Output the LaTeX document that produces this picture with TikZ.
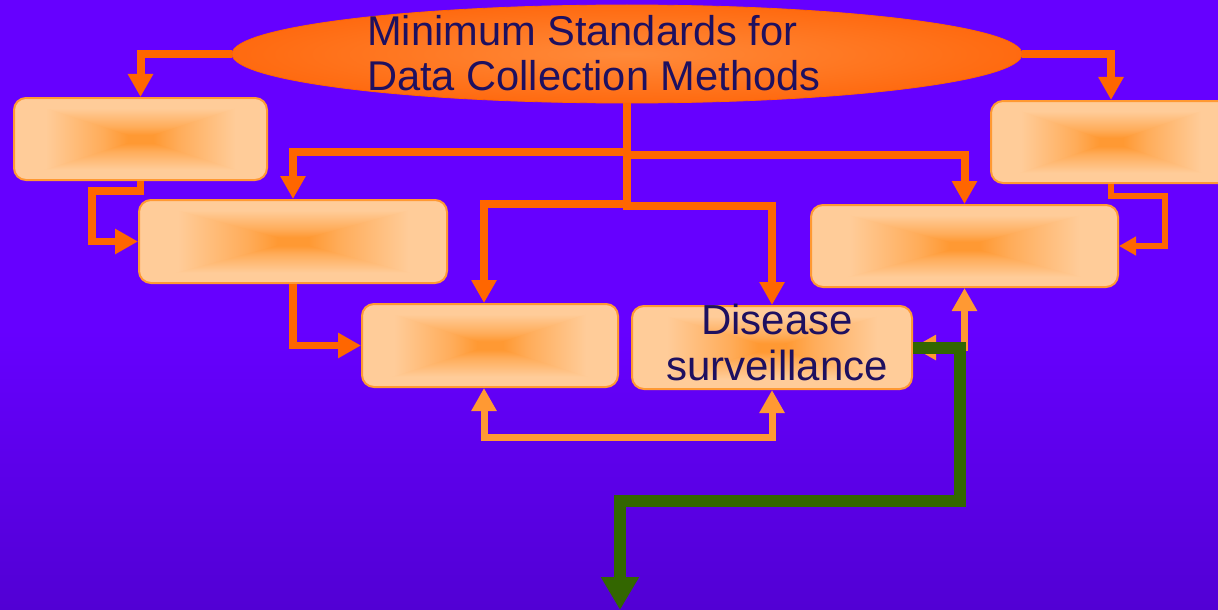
\documentclass[tikz,border=0pt]{standalone}
\usepackage{fontspec}
\newfontfamily\arialf{Liberation Sans}
\usetikzlibrary{arrows.meta,shapes.geometric,calc}

\definecolor{bgtop}{HTML}{6600FF}
\definecolor{bgbot}{HTML}{5200D4}
\definecolor{cdark}{HTML}{FF6600}
\definecolor{clight}{HTML}{FF9933}
\definecolor{peach}{HTML}{FFCC99}
\definecolor{core}{HTML}{FF9933}
\colorlet{midglow}{core!62!peach}
\definecolor{flowgreen}{HTML}{336600}
\definecolor{ink}{HTML}{1E1060}
\definecolor{ellin}{HTML}{FF8A3A}
\definecolor{ellout}{HTML}{FF6A10}

% backdrop: flat violet in the upper part, slightly darker towards the bottom
\pgfdeclareverticalshading{backdrop}{100bp}{color(0bp)=(bgbot); color(25bp)=(bgbot); color(48bp)=(bgtop); color(100bp)=(bgtop)}
% rectangular "glow" of the boxes, built from a horizontal pass and two triangles
\pgfdeclarehorizontalshading{glowh}{100bp}{color(0bp)=(peach); color(31.25bp)=(peach); color(42.5bp)=(midglow); color(47.5bp)=(core); color(52.5bp)=(core); color(57.5bp)=(midglow); color(68.75bp)=(peach); color(100bp)=(peach)}
\pgfdeclareverticalshading{glowtop}{100bp}{color(0bp)=(core); color(30bp)=(core); color(40bp)=(midglow); color(62.5bp)=(peach); color(100bp)=(peach)}
\pgfdeclareverticalshading{glowbot}{100bp}{color(0bp)=(peach); color(37.5bp)=(peach); color(60bp)=(midglow); color(70bp)=(core); color(100bp)=(core)}

\tikzset{
  gbox/.style 2 args={rectangle, rounded corners=12pt, draw=clight, line width=2pt,
    inner sep=0pt, minimum width=#1pt, minimum height=#2pt,
    path picture={
      \shade[shading=glowh] (path picture bounding box.south west) rectangle (path picture bounding box.north east);
      \shade[shading=glowtop] (path picture bounding box.north west) -- (path picture bounding box.north east)
        -- (path picture bounding box.center) -- cycle;
      \shade[shading=glowbot] (path picture bounding box.south west) -- (path picture bounding box.south east)
        -- (path picture bounding box.center) -- cycle;
    }},
  bigtip/.style={-{Triangle[width=24pt,length=23pt]}},
  conn/.style={draw=cdark, line width=8pt, bigtip},
  subconn/.style={draw=cdark, line width=7.5pt, bigtip},
  smallconn/.style={draw=cdark, line width=6pt, -{Triangle[width=18pt,length=17pt]}},
  twoway/.style={draw=clight, line width=7pt,
    {Triangle[width=24pt,length=23pt]}-{Triangle[width=24pt,length=23pt]}},
  greenflow/.style={draw=flowgreen, line width=12pt, -{Triangle[width=36pt,length=33pt]}},
}

\begin{document}
\begin{tikzpicture}[x=1pt,y=-1pt]
  \useasboundingbox (0,0) rectangle (1218,610);
  \shade[shading=backdrop] (0,0) rectangle (1218,610);

  % central ellipse
  \node[ellipse, minimum width=790pt, minimum height=98pt, inner sep=0pt,
        inner color=ellin, outer color=ellout, draw=cdark, line width=0.8pt] (top) at (627,54) {};
  \node[anchor=north west, inner sep=0pt, align=left, text=ink,
        font=\arialf\fontsize{41.6}{45}\selectfont] (title) at (367,15)
        {Minimum Standards for\\Data Collection Methods};

  % boxes
  \node[gbox={253}{82}] (A) at (140.5,139) {};
  \node[gbox={308}{83}] (B) at (293,241.5) {};
  \node[gbox={256}{83}] (C) at (490,345.5) {};
  \node[gbox={280}{83}] (D) at (772,347.5) {};
  \node[gbox={307}{82}] (E) at (964.5,246) {};
  \node[gbox={240}{82}] (F) at (1111,142) {};
  \node[anchor=north, inner sep=0pt, align=center, text=ink,
        font=\arialf\fontsize{42}{46}\selectfont] (dlabel) at ($(D.north)+(5,-1)$)
        {Disease\\surveillance};

  \coordinate (sink) at (620,610);

  % links from the ellipse
  \draw[conn] (top.west) -| (A.north);
  \draw[conn] (top.east) -| (F.north);
  \draw[conn] (top.south) -- ++(0,49) -| (B.north);
  \draw[conn] (top.south) -- ++(0,52) -| (E.north);
  \draw[conn] (top.south) -- ++(0,101) -| ($(C.north)+(-6,0)$);
  \draw[conn] (top.south) -- ++(0,103) -| (D.north);

  % links between boxes
  \draw[subconn] (A.south) |- ++(-48.5,10) |- (B.west);
  \draw[subconn] (B.south) |- (C.west);
  \draw[smallconn] (F.south) |- ++(54,11.5) |- (E.east);
  \draw[twoway] ($(C.south)+(-6,0)$) -- ++(0,49) -| (D.south);
  \draw[twoway] (D.east) -| (E.south);

  % outgoing flow
  \draw[greenflow] (D.east) -| ($(D.east)+(47,153)$) -| (sink);
\end{tikzpicture}
\end{document}
